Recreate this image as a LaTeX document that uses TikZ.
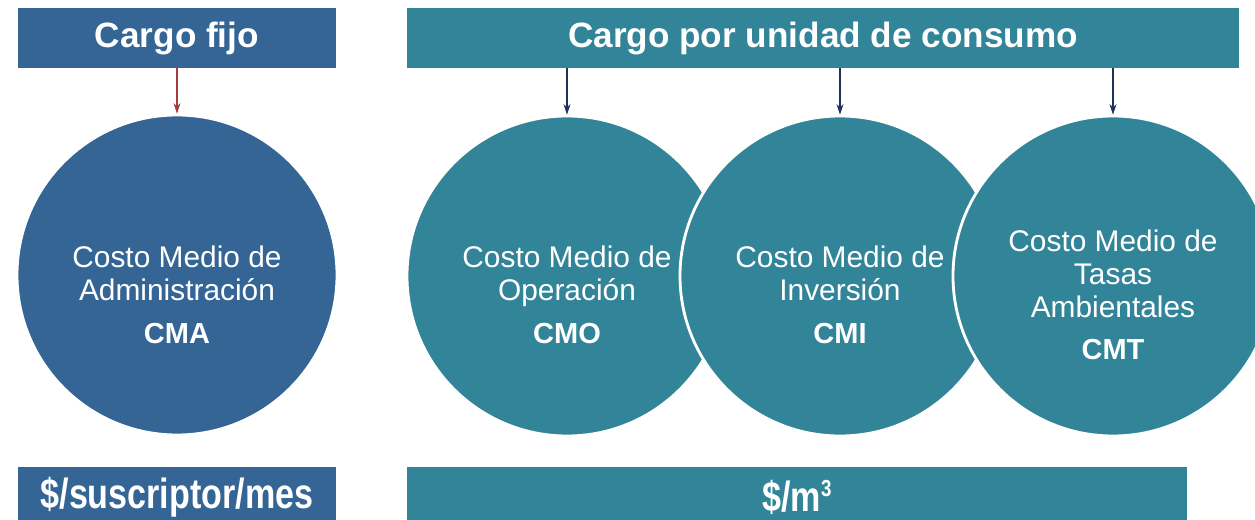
\documentclass[tikz,border=0pt]{standalone}
\usepackage{graphicx}
\usepackage{fontspec}
\setmainfont{Liberation Sans}
\usetikzlibrary{arrows.meta}
\usetikzlibrary{positioning}
\definecolor{fijoblue}{RGB}{52,101,148}
\definecolor{consteal}{RGB}{50,133,152}
\definecolor{arrowred}{RGB}{165,60,60}
\definecolor{arrownavy}{RGB}{30,50,95}

\begin{document}
\begin{tikzpicture} [
        header/.style={rectangle, minimum height=1.2cm, inner sep=0pt, text=white, font=\fontsize{20}{24}\selectfont\bfseries},
        unitbar/.style={rectangle, minimum height=1.2cm, inner sep=0pt, text=white, font=\fontsize{20}{24}\selectfont\bfseries},
        costo/.style={circle, draw=white, line width=1.6pt, minimum size=6.4cm, inner sep=0pt},
        costotxt/.style={align=center, text=white, font=\fontsize{17}{18.7}\selectfont},
        >={Stealth[length=6pt,width=4pt]},
        node distance=5.46cm ]
    \clip (0,0) rectangle (25.1,-10.4);
    \node[header, fill=fijoblue, minimum width=6.36cm] (fijo) at (3.54,-0.76) {\raisebox{-2pt}{Cargo fijo}};
    \node[header, fill=consteal, minimum width=16.64cm] (unidad) at (16.46,-0.76) {\raisebox{-2pt}{Cargo por unidad de consumo}};
    \node[costo, fill=fijoblue] (cma) at (3.54,-5.5) {};
    \node[costo, fill=consteal] (cmo) at (11.34,-5.52) {};
    \node[costo, fill=consteal, right of=cmo] (cmi) {};
    \node[costo, fill=consteal, right of=cmi] (cmt) {};
    \node[costotxt] (cmatxt) at ([yshift=-0.4cm]cma.center) {Costo Medio de\\Administración\\[0.2cm]{\fontsize{16.5}{18}\selectfont\bfseries CMA}};
    \node[costotxt] (cmotxt) at ([yshift=-0.38cm]cmo.center) {Costo Medio de\\Operación\\[0.2cm]{\fontsize{16.5}{18}\selectfont\bfseries CMO}};
    \node[costotxt] (cmitxt) at ([yshift=-0.38cm]cmi.center) {Costo Medio de\\Inversión\\[0.2cm]{\fontsize{16.5}{18}\selectfont\bfseries CMI}};
    \node[costotxt] (cmttxt) at ([yshift=-0.38cm]cmt.center) {Costo Medio de\\Tasas\\Ambientales\\[0.2cm]{\fontsize{16.5}{18}\selectfont\bfseries CMT}};
    \draw[->, arrowred, line width=0.6pt] (fijo) -- (cma);
    \draw[->, arrownavy, line width=0.6pt] (unidad.south -| cmo) -- (cmo);
    \draw[->, arrownavy, line width=0.6pt] (unidad.south -| cmi) -- (cmi);
    \draw[->, arrownavy, line width=0.6pt] (unidad.south -| cmt) -- (cmt);
    \node[unitbar, fill=fijoblue, minimum width=6.36cm] (susc) at (3.54,-9.94) {\scalebox{0.97}[1.2]{\$/suscriptor/mes}};
    \node[unitbar, fill=consteal, minimum width=15.6cm] (m3) at (15.94,-9.94) {\scalebox{0.97}[1.2]{\$/m\raisebox{7pt}{\fontsize{11}{12}\selectfont 3}}};
\end{tikzpicture}
\end{document}
